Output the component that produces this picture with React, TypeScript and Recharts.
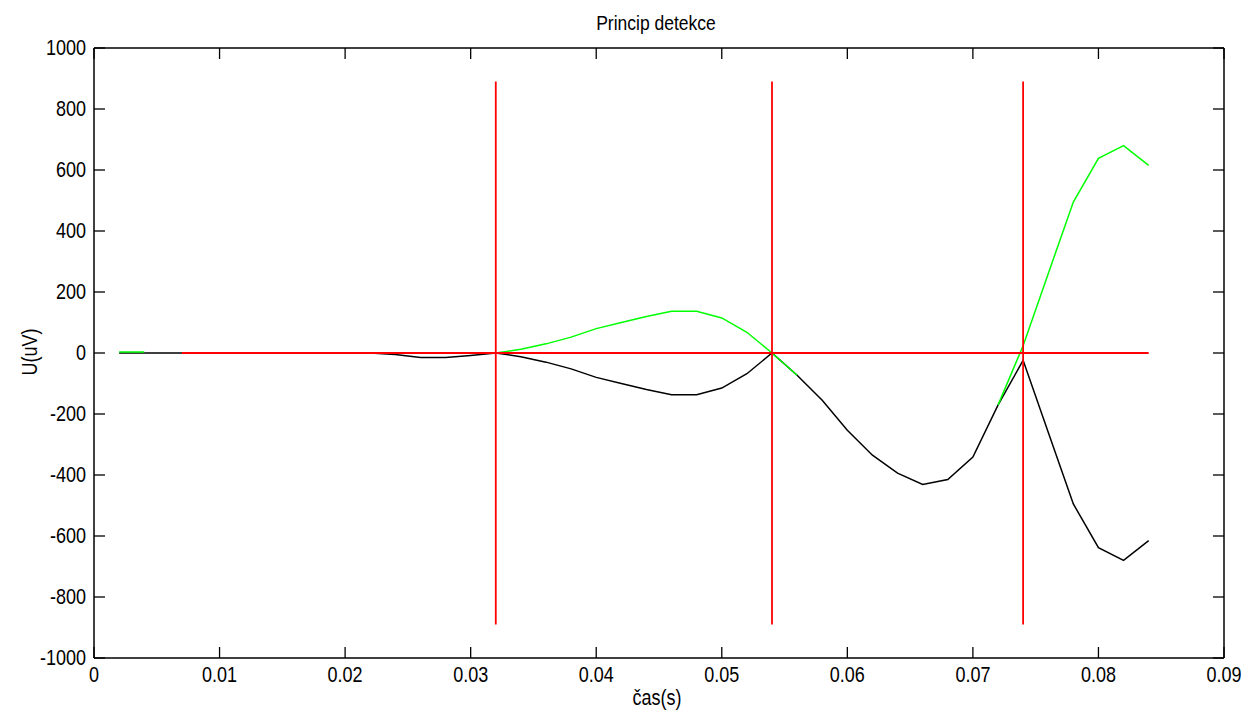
import React from 'react';
import { LineChart, Line, XAxis, YAxis, ReferenceLine } from 'recharts';

// time samples (s)
const times = [
  0.002, 0.004, 0.006, 0.008, 0.010, 0.012, 0.014, 0.016, 0.018, 0.020,
  0.022, 0.024, 0.026, 0.028, 0.030, 0.032, 0.034, 0.036, 0.038, 0.040,
  0.042, 0.044, 0.046, 0.048, 0.050, 0.052, 0.054, 0.056, 0.058, 0.060,
  0.062, 0.064, 0.066, 0.068, 0.070, 0.072, 0.074, 0.076, 0.078, 0.080,
  0.082, 0.084,
];

// original signal (black), uV
const signal = [
  0, 0, 0, 0, 0, 0, 0, 0, 0, 0,
  0, -5, -15, -15, -8, 0, -12, -30, -52, -80,
  -100, -120, -137, -137, -115, -68, 0, -73, -155, -253,
  -335, -394, -431, -415, -341, -171, -24, -260, -495, -638,
  -680, -615,
];

// flipped signal (green), uV — null where hidden under black
const flipped: (number | null)[] = [
  3, 3, null, null, null, null, null, null, null, null,
  null, null, null, null, null, 0, 12, 30, 52, 80,
  100, 120, 137, 137, 115, 68, 0, -73, null, null,
  null, null, null, null, null, -171, 24, 260, 495, 638,
  680, 615,
];

// detection markers
const detectionTimes = [0.032, 0.054, 0.074];
const markerHalfHeight = 890;
const baselineStart = 0.007;
const baselineEnd = 0.084;

const xTicks = [0, 0.01, 0.02, 0.03, 0.04, 0.05, 0.06, 0.07, 0.08, 0.09];
const yTicks = [-1000, -800, -600, -400, -200, 0, 200, 400, 600, 800, 1000];

const data = times.map((t, i) => ({ t, signal: signal[i], flipped: flipped[i] }));

const FONT = '"Liberation Sans", Arial, Helvetica, sans-serif';
const fmtX = (v: number) => String(Number(v.toFixed(3)));

const BottomTick = (props: any) => {
  const { x, y, payload } = props;
  return (
    <g>
      <line x1={x} y1={y} x2={x} y2={y - 11} stroke="#000" strokeWidth={1.3} />
      <text
        transform={`translate(${x},${y + 24}) scale(1,1.2)`}
        textAnchor="middle"
        fontSize={18}
        fontFamily={FONT}
        fill="#000"
      >
        {fmtX(payload.value)}
      </text>
    </g>
  );
};

const LeftTick = (props: any) => {
  const { x, y, payload } = props;
  return (
    <g>
      <line x1={x} y1={y} x2={x + 11} y2={y} stroke="#000" strokeWidth={1.3} />
      <text
        transform={`translate(${x - 8},${y + 7}) scale(1,1.2)`}
        textAnchor="end"
        fontSize={18}
        fontFamily={FONT}
        fill="#000"
      >
        {String(payload.value)}
      </text>
    </g>
  );
};

const TopTick = (props: any) => {
  const { x, y } = props;
  return <line x1={x} y1={y} x2={x} y2={y + 11} stroke="#000" strokeWidth={1.3} />;
};

const RightTick = (props: any) => {
  const { x, y } = props;
  return <line x1={x} y1={y} x2={x - 11} y2={y} stroke="#000" strokeWidth={1.3} />;
};

export default function App() {
  return (
    <div style={{ position: 'absolute', left: 0, top: 0, width: 1256, height: 711, background: '#fff' }}>
      <LineChart
        width={1256}
        height={711}
        data={data}
        margin={{ top: 47, right: 31, bottom: 0, left: 0 }}
      >
        <XAxis
          xAxisId="b"
          dataKey="t"
          type="number"
          domain={[0, 0.09]}
          ticks={xTicks}
          interval={0}
          allowDataOverflow
          height={53}
          tickSize={0}
          tickMargin={0}
          tickLine={false}
          axisLine={{ stroke: '#000', strokeWidth: 1.5 }}
          tick={<BottomTick />}
        />
        <XAxis
          xAxisId="t"
          orientation="top"
          dataKey="t"
          type="number"
          domain={[0, 0.09]}
          ticks={xTicks}
          interval={0}
          allowDataOverflow
          height={1}
          tickSize={0}
          tickMargin={0}
          tickLine={false}
          axisLine={{ stroke: '#000', strokeWidth: 1.5 }}
          tick={<TopTick />}
        />
        <YAxis
          yAxisId="l"
          type="number"
          domain={[-1000, 1000]}
          ticks={yTicks}
          interval={0}
          allowDataOverflow
          width={94}
          tickSize={0}
          tickMargin={0}
          tickLine={false}
          axisLine={{ stroke: '#000', strokeWidth: 1.5 }}
          tick={<LeftTick />}
        />
        <YAxis
          yAxisId="r"
          orientation="right"
          type="number"
          domain={[-1000, 1000]}
          ticks={yTicks}
          interval={0}
          allowDataOverflow
          width={1}
          tickSize={0}
          tickMargin={0}
          tickLine={false}
          axisLine={{ stroke: '#000', strokeWidth: 1.5 }}
          tick={<RightTick />}
        />
        <Line
          xAxisId="b"
          yAxisId="l"
          type="linear"
          dataKey="signal"
          stroke="#000000"
          strokeWidth={1.5}
          dot={false}
          isAnimationActive={false}
        />
        <Line
          xAxisId="b"
          yAxisId="l"
          type="linear"
          dataKey="flipped"
          stroke="#00ff00"
          strokeWidth={1.5}
          dot={false}
          connectNulls={false}
          isAnimationActive={false}
        />
        <ReferenceLine
          xAxisId="b"
          yAxisId="l"
          segment={[{ x: baselineStart, y: 0 }, { x: baselineEnd, y: 0 }]}
          stroke="#ff0000"
          strokeWidth={1.8}
          ifOverflow="visible"
        />
        {detectionTimes.map((d) => (
          <ReferenceLine
            key={d}
            xAxisId="b"
            yAxisId="l"
            segment={[{ x: d, y: -markerHalfHeight }, { x: d, y: markerHalfHeight }]}
            stroke="#ff0000"
            strokeWidth={1.8}
            ifOverflow="visible"
          />
        ))}
      </LineChart>
      <div
        style={{
          position: 'absolute', left: 656, top: 24, transform: 'translate(-50%,-50%) scaleY(1.2)',
          fontFamily: FONT, fontSize: 17.5, whiteSpace: 'nowrap', color: '#000', lineHeight: 1,
        }}
      >
        Princip detekce
      </div>
      <div
        style={{
          position: 'absolute', left: 657, top: 698, transform: 'translate(-50%,-50%) scaleY(1.2)',
          fontFamily: FONT, fontSize: 18, whiteSpace: 'nowrap', color: '#000', lineHeight: 1,
        }}
      >
        čas(s)
      </div>
      <div
        style={{
          position: 'absolute', left: 30, top: 352, transform: 'translate(-50%,-50%) rotate(-90deg) scaleY(1.2)',
          fontFamily: FONT, fontSize: 18, whiteSpace: 'nowrap', color: '#000', lineHeight: 1,
        }}
      >
        U(uV)
      </div>
    </div>
  );
}
